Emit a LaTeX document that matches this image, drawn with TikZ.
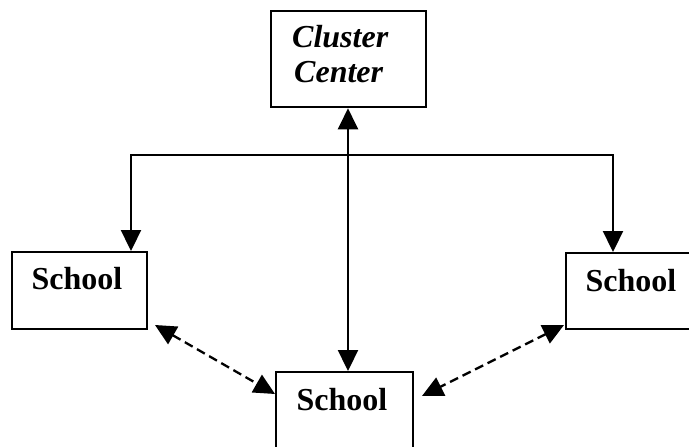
\documentclass[tikz,border=0pt]{standalone}
\usepackage{fontspec}
\setmainfont{Liberation Serif}
\usetikzlibrary{arrows.meta,calc}
\begin{document}
\begin{tikzpicture}[x=1pt,y=-1pt,
  box/.style={draw,line width=2.3pt,rectangle,inner sep=0pt,anchor=north west},
  lbl/.style={font=\fontsize{32}{35}\selectfont\bfseries,inner sep=0pt,anchor=base},
  ital/.style={font=\fontsize{32}{35}\selectfont\bfseries\itshape,inner sep=0pt,anchor=base west},
  conn/.style={line width=2.3pt},
  arr/.style={line width=2.3pt,-{Triangle[length=21pt,width=20pt]}},
  darr/.style={line width=2.3pt,dash pattern=on 9pt off 5pt,{Triangle[length=21pt,width=20pt]}-{Triangle[length=21pt,width=20pt]}}]
\useasboundingbox (0,0) rectangle (689,447);
% boxes
\node[box,minimum width=155pt,minimum height=96pt] (cc) at (270,10) {};
\node[box,minimum width=135pt,minimum height=77pt] (ls) at (11,251) {};
\node[box,minimum width=140pt,minimum height=76pt] (rs) at (565,252) {};
\node[box,minimum width=137pt,minimum height=90pt] (bs) at (275,371) {};
% texts
\node[ital] (cc1) at (292,47) {Cluster};
\node[ital] (cc2) at (294,82) {Center};
\node[lbl] (lst) at (77,289) {School};
\node[lbl] (rst) at (631,291) {School};
\node[lbl] (bst) at (342,410) {School};
% connectors
\coordinate (hl) at (131,155);
\coordinate (hr) at (613,155);
\coordinate (v) at (348,155);
\draw[conn,line cap=rect] (hl) -- (hr);
\draw[arr] (hl) -- (hl |- ls.north);
\draw[arr] (hr) -- (hr |- rs.north);
\draw[line width=2.3pt,{Triangle[length=21pt,width=20pt]}-{Triangle[length=21pt,width=20pt]}] (v |- cc.south) -- (v |- bs.north);
% dashed
\coordinate (d1a) at (155,325);
\coordinate (d1b) at (275,394);
\coordinate (d2a) at (564,325);
\coordinate (d2b) at (422,396);
\draw[darr] (d1a) -- (d1b);
\draw[darr] (d2a) -- (d2b);
\end{tikzpicture}
\end{document}
